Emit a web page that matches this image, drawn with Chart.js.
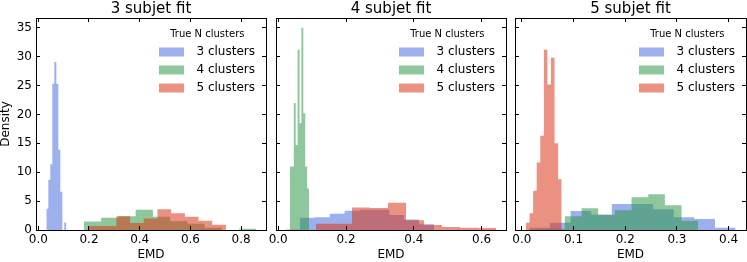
<!DOCTYPE html>
<html>
<head>
<meta charset="utf-8">
<script src="https://cdn.jsdelivr.net/npm/chart.js@4/dist/chart.umd.min.js"></script>
<style>
  html, body { margin: 0; padding: 0; background: #ffffff; }
  #wrap { position: relative; width: 747px; height: 262px; overflow: hidden; }
  #wrap canvas { position: absolute; left: 0; top: 0; }
</style>
</head>
<body>
<div id="wrap">
  <canvas id="c1" width="747" height="262"></canvas>
  <canvas id="c2" width="747" height="262"></canvas>
  <canvas id="c3" width="747" height="262"></canvas>
</div>
<script>
// ---------------- data ----------------
const panelTitles = ['3 subjet fit', '4 subjet fit', '5 subjet fit'];
const seriesLabels = ['3 clusters', '4 clusters', '5 clusters'];
const legendTitle = 'True N clusters';
const xAxisLabel = 'EMD';
const yAxisLabel = 'Density';

// panel 1: 3 subjet fit (bin edges and density per true-N series)
const fit3_n3_edges = [0.0317, 0.0396, 0.0475, 0.0553, 0.0632, 0.0711, 0.0790, 0.0869, 0.0948, 0.1026, 0.1105];
const fit3_n3_density = [3.7, 8.7, 11.4, 25.3, 29.1, 25.3, 13.9, 6.6, 0, 1.3];
const fit3_n4_edges = [0.180, 0.248, 0.316, 0.384, 0.452, 0.520, 0.588, 0.656, 0.724, 0.792, 0.860];
const fit3_n4_density = [1.45, 2.1, 2.4, 3.5, 2.3, 1.5, 1.1, 0.4, 0, 0.2];
const fit3_n5_edges = [0.200, 0.254, 0.308, 0.362, 0.416, 0.470, 0.524, 0.578, 0.632, 0.686, 0.740];
const fit3_n5_density = [0.7, 0.7, 2.4, 1.2, 2.0, 3.6, 2.9, 2.3, 1.6, 0.9];

// panel 2: 4 subjet fit
const fit4_n3_edges = [0.0201, 0.0641, 0.1080, 0.1520, 0.1959, 0.2399, 0.2838, 0.3278, 0.3717, 0.4157, 0.4596];
const fit4_n3_density = [0.1, 2.1, 2.2, 2.8, 3.35, 3.5, 3.5, 2.6, 1.8, 1.0];
const fit4_n4_edges = [0.0348, 0.0404, 0.0460, 0.0516, 0.0572, 0.0629, 0.0685, 0.0741, 0.0797, 0.0853, 0.0909];
const fit4_n4_density = [11.0, 11.0, 22.0, 14.7, 31.2, 18.5, 35.0, 20.2, 11.0, 7.2];
const fit4_n5_edges = [0.1115, 0.1646, 0.2177, 0.2708, 0.3239, 0.3770, 0.4301, 0.4832, 0.5363, 0.5894, 0.6425];
const fit4_n5_density = [1.1, 1.1, 3.9, 3.8, 4.7, 1.7, 0.87, 0.5, 0.4, 0.35];

// panel 3: 5 subjet fit
const fit5_n3_edges = [0.0145, 0.0544, 0.0943, 0.1342, 0.1741, 0.2140, 0.2539, 0.2938, 0.3337, 0.3736, 0.4135];
const fit5_n3_density = [0.4, 1.27, 3.3, 2.7, 4.5, 4.5, 3.6, 2.2, 1.9, 0.4];
const fit5_n4_edges = [0.0187, 0.0510, 0.0832, 0.1155, 0.1477, 0.1800, 0.2122, 0.2445, 0.2767, 0.3090, 0.3412];
const fit5_n4_density = [0.1, 0.2, 2.4, 3.75, 2.6, 3.4, 5.65, 6.2, 4.3, 1.6];
const fit5_n5_edges = [0.0081, 0.0150, 0.0219, 0.0288, 0.0357, 0.0426, 0.0495, 0.0564, 0.0633, 0.0702, 0.0771];
const fit5_n5_density = [1.27, 2.9, 6.8, 11.7, 16.3, 31.2, 25.2, 29.8, 15.0, 8.8];

// axis ranges and tick steps
const yMin = 0, yMax = 36.7, yStep = 5;
const xRanges = [[-0.009, 0.898], [-0.0065, 0.672], [-0.0132, 0.4336]];
const xSteps = [0.2, 0.2, 0.1];

// ---------------- styling / layout ----------------
const seriesColors = ['rgba(77,111,224,0.55)', 'rgba(48,153,73,0.55)', 'rgba(218,55,25,0.55)'];
const plotAreas = [[36, 266], [276, 506], [515, 746]]; // left/right px of each plot box
const W = 747;

Chart.defaults.font.family = "'DejaVu Sans', sans-serif";
Chart.defaults.color = '#000';

function outline(edges, dens) {
  const pts = [{ x: edges[0], y: 0 }];
  for (let i = 0; i < dens.length; i++) {
    pts.push({ x: edges[i], y: dens[i] });
    pts.push({ x: edges[i + 1], y: dens[i] });
  }
  pts.push({ x: edges[edges.length - 1], y: 0 });
  return pts;
}

const legendPlacer = {
  id: 'legendPlacer',
  afterLayout(chart) {
    const L = chart.legend;
    if (!L) return;
    const R = chart.chartArea.right;
    L.left = R - 113;
    L.width = 108.6;
    L.right = R - 11;
    L.top = 29;
    L.height = 100;
    L.bottom = 129;
  }
};

function tickAxis(pos, axis, min, max, step) {
  return {
    type: 'linear', axis: axis, position: pos, min: min, max: max,
    ticks: { display: false, stepSize: step, includeBounds: false },
    grid: { drawOnChartArea: false, drawTicks: true, tickLength: -4, color: '#000', z: 1 },
    border: { display: true, color: '#000', width: 1, z: 1 },
    afterFit(s) { if (axis === 'x') s.height = 0; else s.width = 0; }
  };
}

function makePanel(canvasId, idx, seriesEdges, seriesDens) {
  const showY = idx === 0;
  const [aL, aR] = plotAreas[idx];
  const yW = showY ? 36 : 0;
  const [xmin, xmax] = xRanges[idx];
  const datasets = seriesLabels.map((lab, k) => ({
    type: 'line',
    label: lab,
    data: outline(seriesEdges[k], seriesDens[k]),
    backgroundColor: seriesColors[k],
    borderColor: 'transparent',
    borderWidth: 0,
    pointRadius: 0,
    pointHoverRadius: 0,
    tension: 0,
    fill: 'origin',
    order: 3 - k
  }));
  return new Chart(document.getElementById(canvasId), {
    type: 'line',
    data: { datasets: datasets },
    options: {
      responsive: false,
      devicePixelRatio: 1,
      animation: false,
      events: [],
      layout: { padding: { left: aL - yW, right: W - aR, top: 0, bottom: 0 } },
      scales: {
        x: {
          type: 'linear', position: 'bottom', min: xmin, max: xmax,
          ticks: {
            stepSize: xSteps[idx], includeBounds: false, maxRotation: 0, autoSkip: false,
            padding: 7, font: { size: 12 }, color: '#000',
            callback: (v) => Number(v).toFixed(1)
          },
          grid: { drawOnChartArea: false, drawTicks: true, tickLength: -4, color: '#000', z: 1 },
          border: { display: true, color: '#000', width: 1, z: 1 },
          title: { display: true, text: xAxisLabel, font: { size: 12 }, color: '#000', padding: { top: 0, bottom: 0 } },
          afterFit(s) { s.height = 32; }
        },
        y: {
          type: 'linear', position: 'left', min: yMin, max: yMax,
          ticks: {
            display: showY, stepSize: yStep, includeBounds: false, padding: 8,
            font: { size: 12 }, color: '#000',
            callback: (v) => String(v)
          },
          grid: { drawOnChartArea: false, drawTicks: true, tickLength: -4, color: '#000', z: 1 },
          border: { display: true, color: '#000', width: 1, z: 1 },
          title: { display: showY, text: yAxisLabel, font: { size: 12, lineHeight: 1 }, color: '#000', padding: 0 },
          afterFit(s) { s.width = yW; }
        },
        x2: tickAxis('top', 'x', xmin, xmax, xSteps[idx]),
        y2: tickAxis('right', 'y', yMin, yMax, yStep)
      },
      plugins: {
        tooltip: { enabled: false },
        title: {
          display: true, text: panelTitles[idx], fullSize: false,
          font: { size: 15, weight: 'normal' }, color: '#000', padding: 0
        },
        legend: {
          display: true, position: 'chartArea', align: 'start',
          labels: {
            boxWidth: 25, boxHeight: 9, padding: 6, font: { size: 12 }, color: '#000',
            textAlign: 'right',
            sort: (a, b) => a.datasetIndex - b.datasetIndex
          },
          title: {
            display: true, text: legendTitle, color: '#000',
            font: { size: 10, lineHeight: 1 }, padding: { top: 0, bottom: 1 }
          }
        }
      }
    },
    plugins: [legendPlacer]
  });
}

makePanel('c1', 0,
  [fit3_n3_edges, fit3_n4_edges, fit3_n5_edges],
  [fit3_n3_density, fit3_n4_density, fit3_n5_density]);
makePanel('c2', 1,
  [fit4_n3_edges, fit4_n4_edges, fit4_n5_edges],
  [fit4_n3_density, fit4_n4_density, fit4_n5_density]);
makePanel('c3', 2,
  [fit5_n3_edges, fit5_n4_edges, fit5_n5_edges],
  [fit5_n3_density, fit5_n4_density, fit5_n5_density]);
</script>
</body>
</html>
